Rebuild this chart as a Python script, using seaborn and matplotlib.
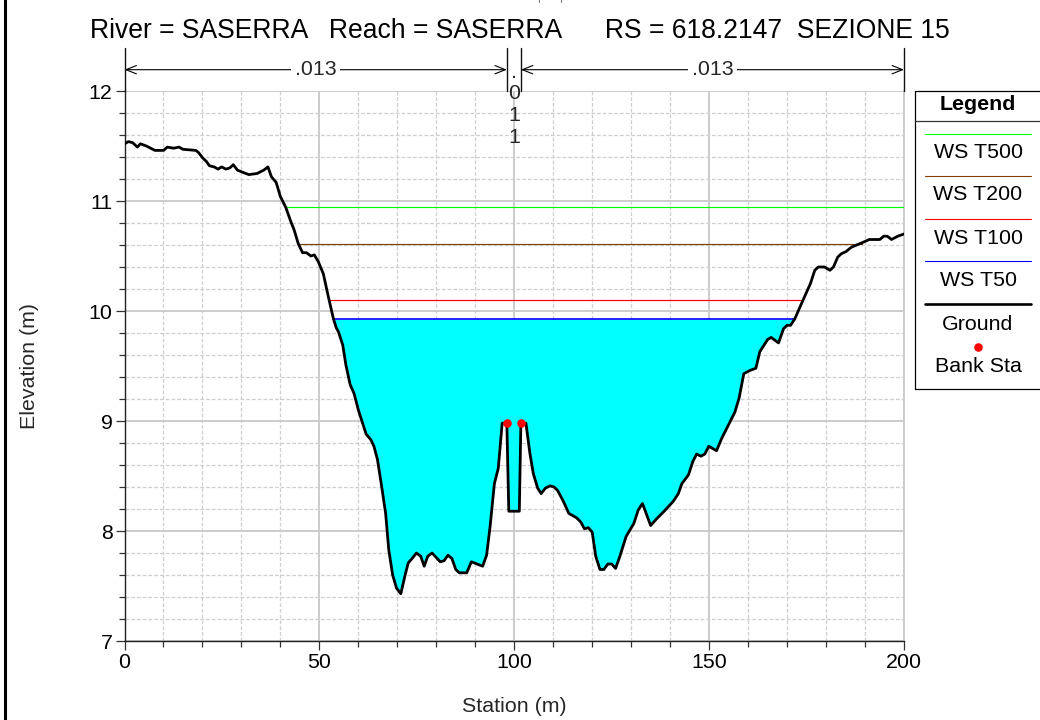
import numpy as np
import pandas as pd
import matplotlib
matplotlib.use("Agg")
import matplotlib.pyplot as plt
from matplotlib.ticker import MultipleLocator
import seaborn as sns

# Ground profile
station = [0, 1.0, 2.1, 3.3, 4.1, 5.6, 7.8, 10, 11, 12.6, 14, 15, 18.3, 19, 20.1, 21, 21.8, 23, 24, 24.9,
           26, 27, 27.9, 29, 30.4, 31.9, 34, 35.7, 36.8, 37.7, 38.9, 40, 41.4, 42.7, 43.5, 44.6, 45.7, 46.7,
           47.8, 48.7, 49.7, 51, 52.3, 53.6, 54.3, 54.9, 56, 56.8, 57.9, 58.9, 60, 61, 62, 63.2, 64, 64.9,
           66, 67, 67.8, 68.8, 69.8, 70.9, 72, 72.8, 73.8, 74.9, 76, 76.9, 77.8, 78.9, 81, 82, 83, 84, 85,
           85.9, 87.8, 89, 91.9, 92.9, 93.8, 94.9, 95.9, 96.9, 98.1, 98.6, 101.3, 101.7, 103, 104, 104.9,
           106, 106.9, 108, 109.2, 110.2, 111.1, 112.6, 114, 116, 117.1, 118, 119, 120, 120.9, 122, 123,
           124, 125, 126, 127.1, 128.7, 130.7, 131.8, 132.9, 135, 136.5, 138.2, 140.8, 142.1, 143, 144.7,
           145.8, 146.8, 147.9, 148.9, 149.9, 151.9, 153.2, 156.6, 157.7, 158.9, 160.5, 162, 163, 165,
           165.9, 167.8, 169.1, 170, 170.9, 172, 174.1, 176, 177.1, 178, 179.6, 181, 181.9, 183, 183.9,
           185.1, 186.5, 189.2, 191.1, 193.8, 194.8, 195.7, 196.8, 198.4, 200]
ground = [11.52, 11.54, 11.53, 11.49, 11.52, 11.50, 11.46, 11.46, 11.49, 11.48, 11.49, 11.47, 11.46, 11.44,
          11.39, 11.36, 11.32, 11.31, 11.29, 11.31, 11.29, 11.30, 11.33, 11.28, 11.26, 11.24, 11.25, 11.28,
          11.31, 11.22, 11.17, 11.04, 10.94, 10.81, 10.74, 10.61, 10.53, 10.53, 10.50, 10.51, 10.45, 10.34,
          10.13, 9.93, 9.85, 9.81, 9.69, 9.51, 9.33, 9.25, 9.10, 8.99, 8.88, 8.83, 8.77, 8.65, 8.40, 8.16,
          7.83, 7.60, 7.48, 7.43, 7.60, 7.71, 7.75, 7.80, 7.77, 7.68, 7.77, 7.80, 7.72, 7.73, 7.78, 7.75,
          7.65, 7.62, 7.62, 7.72, 7.68, 7.78, 8.04, 8.43, 8.57, 8.98, 8.98, 8.18, 8.18, 8.98, 8.98, 8.71,
          8.52, 8.39, 8.34, 8.39, 8.41, 8.40, 8.37, 8.27, 8.16, 8.12, 8.08, 8.02, 8.03, 7.99, 7.77, 7.65,
          7.65, 7.70, 7.70, 7.66, 7.77, 7.95, 8.07, 8.19, 8.25, 8.05, 8.11, 8.17, 8.27, 8.34, 8.43, 8.51,
          8.63, 8.70, 8.68, 8.70, 8.77, 8.73, 8.84, 9.08, 9.21, 9.43, 9.46, 9.48, 9.63, 9.74, 9.76, 9.71,
          9.84, 9.87, 9.87, 9.93, 10.10, 10.25, 10.37, 10.40, 10.40, 10.37, 10.40, 10.49, 10.52, 10.54,
          10.58, 10.62, 10.65, 10.65, 10.68, 10.68, 10.65, 10.68, 10.70]

# Water surfaces
ws_names = ["WS T500", "WS T200", "WS T100", "WS T50"]
ws_levels = [10.943, 10.61, 10.10, 9.925]
ws_start = [41.4, 44.6, 52.5, 53.6]
ws_end = [200, 189.2, 174.1, 172]
ws_colors = ["#00ff00", "#804000", "#ff0000", "#0000ff"]

bank_sta = [98.1, 101.7]
bank_elev = [8.98, 8.98]

# Manning's n values and where they change
n_breaks = [0, 98.1, 101.7, 200]
n_labels = [".013", ".011", ".013"]

title_text = "River = SASERRA   Reach = SASERRA      RS = 618.2147  SEZIONE 15"

sns.set_style("white")
plt.rcParams["font.family"] = ["Liberation Sans", "DejaVu Sans"]

W, H = 1040, 720
fig = plt.figure(figsize=(W / 100, H / 100), dpi=100, facecolor="white")
ax = fig.add_axes([124.5 / W, (H - 641) / H, 779.5 / W, 550 / H])

prof = pd.DataFrame({"station": station, "ground": ground})

# Fill under the lowest water surface
x = np.array(station)
y = np.array(ground)
ax.fill_between(x, y, ws_levels[3], where=y <= ws_levels[3], interpolate=True,
                color="#00ffff", lw=0, zorder=2)

for i in range(4):
    sns.lineplot(x=[ws_start[i], ws_end[i]], y=[ws_levels[i], ws_levels[i]], color=ws_colors[i],
                 lw=1.2 if i == 3 else 0.85, ax=ax, legend=False, zorder=3)

sns.lineplot(data=prof, x="station", y="ground", estimator=None, sort=False, color="black",
             lw=2.0, ax=ax, legend=False, zorder=4)
sns.scatterplot(x=bank_sta, y=bank_elev, color="#ff0000", s=38, linewidth=0, ax=ax, legend=False, zorder=5)

ax.set_xlim(0, 200)
ax.set_ylim(7, 12)
ax.xaxis.set_major_locator(MultipleLocator(50))
ax.xaxis.set_minor_locator(MultipleLocator(10))
ax.yaxis.set_major_locator(MultipleLocator(1))
ax.yaxis.set_minor_locator(MultipleLocator(0.2))
ax.grid(True, which="major", color="#cccccc", lw=1.4, zorder=0)
ax.grid(True, which="minor", color="#cfcfcf", lw=0.9, ls=(0, (3, 1.6)), zorder=0)
ax.set_axisbelow(True)
ax.tick_params(which="major", length=6.5, width=0.9, color="#333333", labelsize=15.4, labelcolor="black", pad=2,
               bottom=True, left=True)
ax.tick_params(which="minor", length=4, width=0.9, color="#333333", bottom=True, left=True)
ax.spines["top"].set_visible(False)
ax.spines["right"].set_color("#cccccc")
ax.spines["right"].set_linewidth(1.4)
ax.spines["left"].set_color("#222222")
ax.spines["bottom"].set_color("#222222")
ax.spines["left"].set_linewidth(1.0)
ax.spines["bottom"].set_linewidth(1.0)
ax.set_xlabel("Station (m)", fontsize=15.4)
ax.set_ylabel("Elevation (m)", fontsize=15.4)
ax.xaxis.set_label_coords(0.5, -0.102)
ax.yaxis.set_label_coords(-0.11, 0.5)

# Manning's n band above the plot
tr = ax.get_xaxis_transform()
arrow_y = (641 - 69.7) / 550
for b in n_breaks:
    ax.plot([b, b], [1.0, (641 - 48) / 550], transform=tr, color="#111111", lw=1.0, clip_on=False, zorder=6)
for i, lab in enumerate(n_labels):
    a, b = n_breaks[i], n_breaks[i + 1]
    mid = (a + b) / 2
    if b - a > 10:
        ax.annotate("", xy=(a, arrow_y), xytext=(b, arrow_y), xycoords=tr, textcoords=tr,
                    arrowprops=dict(arrowstyle="<->,head_length=0.75,head_width=0.3", color="black", lw=0.8,
                                    shrinkA=0, shrinkB=0))
        ax.text(mid, arrow_y, lab, transform=tr, ha="center", va="center", fontsize=15.4,
                bbox=dict(facecolor="white", edgecolor="none", pad=2.5), zorder=7)
    else:
        # narrow band: the label is stacked one character per row
        for k, ch in enumerate(lab):
            ax.text(mid, (641 - (72 + k * 21.7)) / 550, ch, transform=tr, ha="center", va="center",
                    fontsize=15.4, zorder=7)

# Pixel overlay for title, legend box and page border
ov = fig.add_axes([0, 0, 1, 1], facecolor="none")
ov.set_xlim(0, W)
ov.set_ylim(H, 0)
ov.axis("off")
ov.text(90, 31, title_text, fontsize=19.1, ha="left", va="center", color="black")
ov.plot([5, 5], [0, H], color="black", lw=2.2)
# bottoms of a cut-off line at the very top of the page
ov.plot([539, 539], [0, 2], color="#777777", lw=0.8)
ov.plot([561, 561], [0, 2], color="#777777", lw=0.8)

lx, ly0, ly1 = 915, 91, 389
ov.plot([W + 2, lx, lx, W + 2], [ly0, ly0, ly1, ly1], color="black", lw=0.9)
ov.plot([lx, W], [120.5, 120.5], color="#333333", lw=0.9)
ov.text(978, 105, "Legend", fontsize=15.4, fontweight="bold", ha="center", va="center", color="black")
row_lines = [133.5, 176, 219, 261]
row_text = [153, 195, 238, 280]
for i in range(4):
    ov.plot([925, 1031], [row_lines[i], row_lines[i]], color=ws_colors[i], lw=0.8)
    ov.text(978, row_text[i], ws_names[i], fontsize=15.4, ha="center", va="center", color="black")
ov.plot([925, 1031], [304, 304], color="black", lw=1.9)
ov.text(978, 324, "Ground", fontsize=15.4, ha="center", va="center", color="black")
ov.scatter([978], [347], color="#ff0000", s=38, linewidth=0)
ov.text(978, 366, "Bank Sta", fontsize=15.4, ha="center", va="center", color="black")
ov.set_xlim(0, W)
ov.set_ylim(H, 0)

fig.savefig("out.png", dpi=100)
plt.close(fig)
